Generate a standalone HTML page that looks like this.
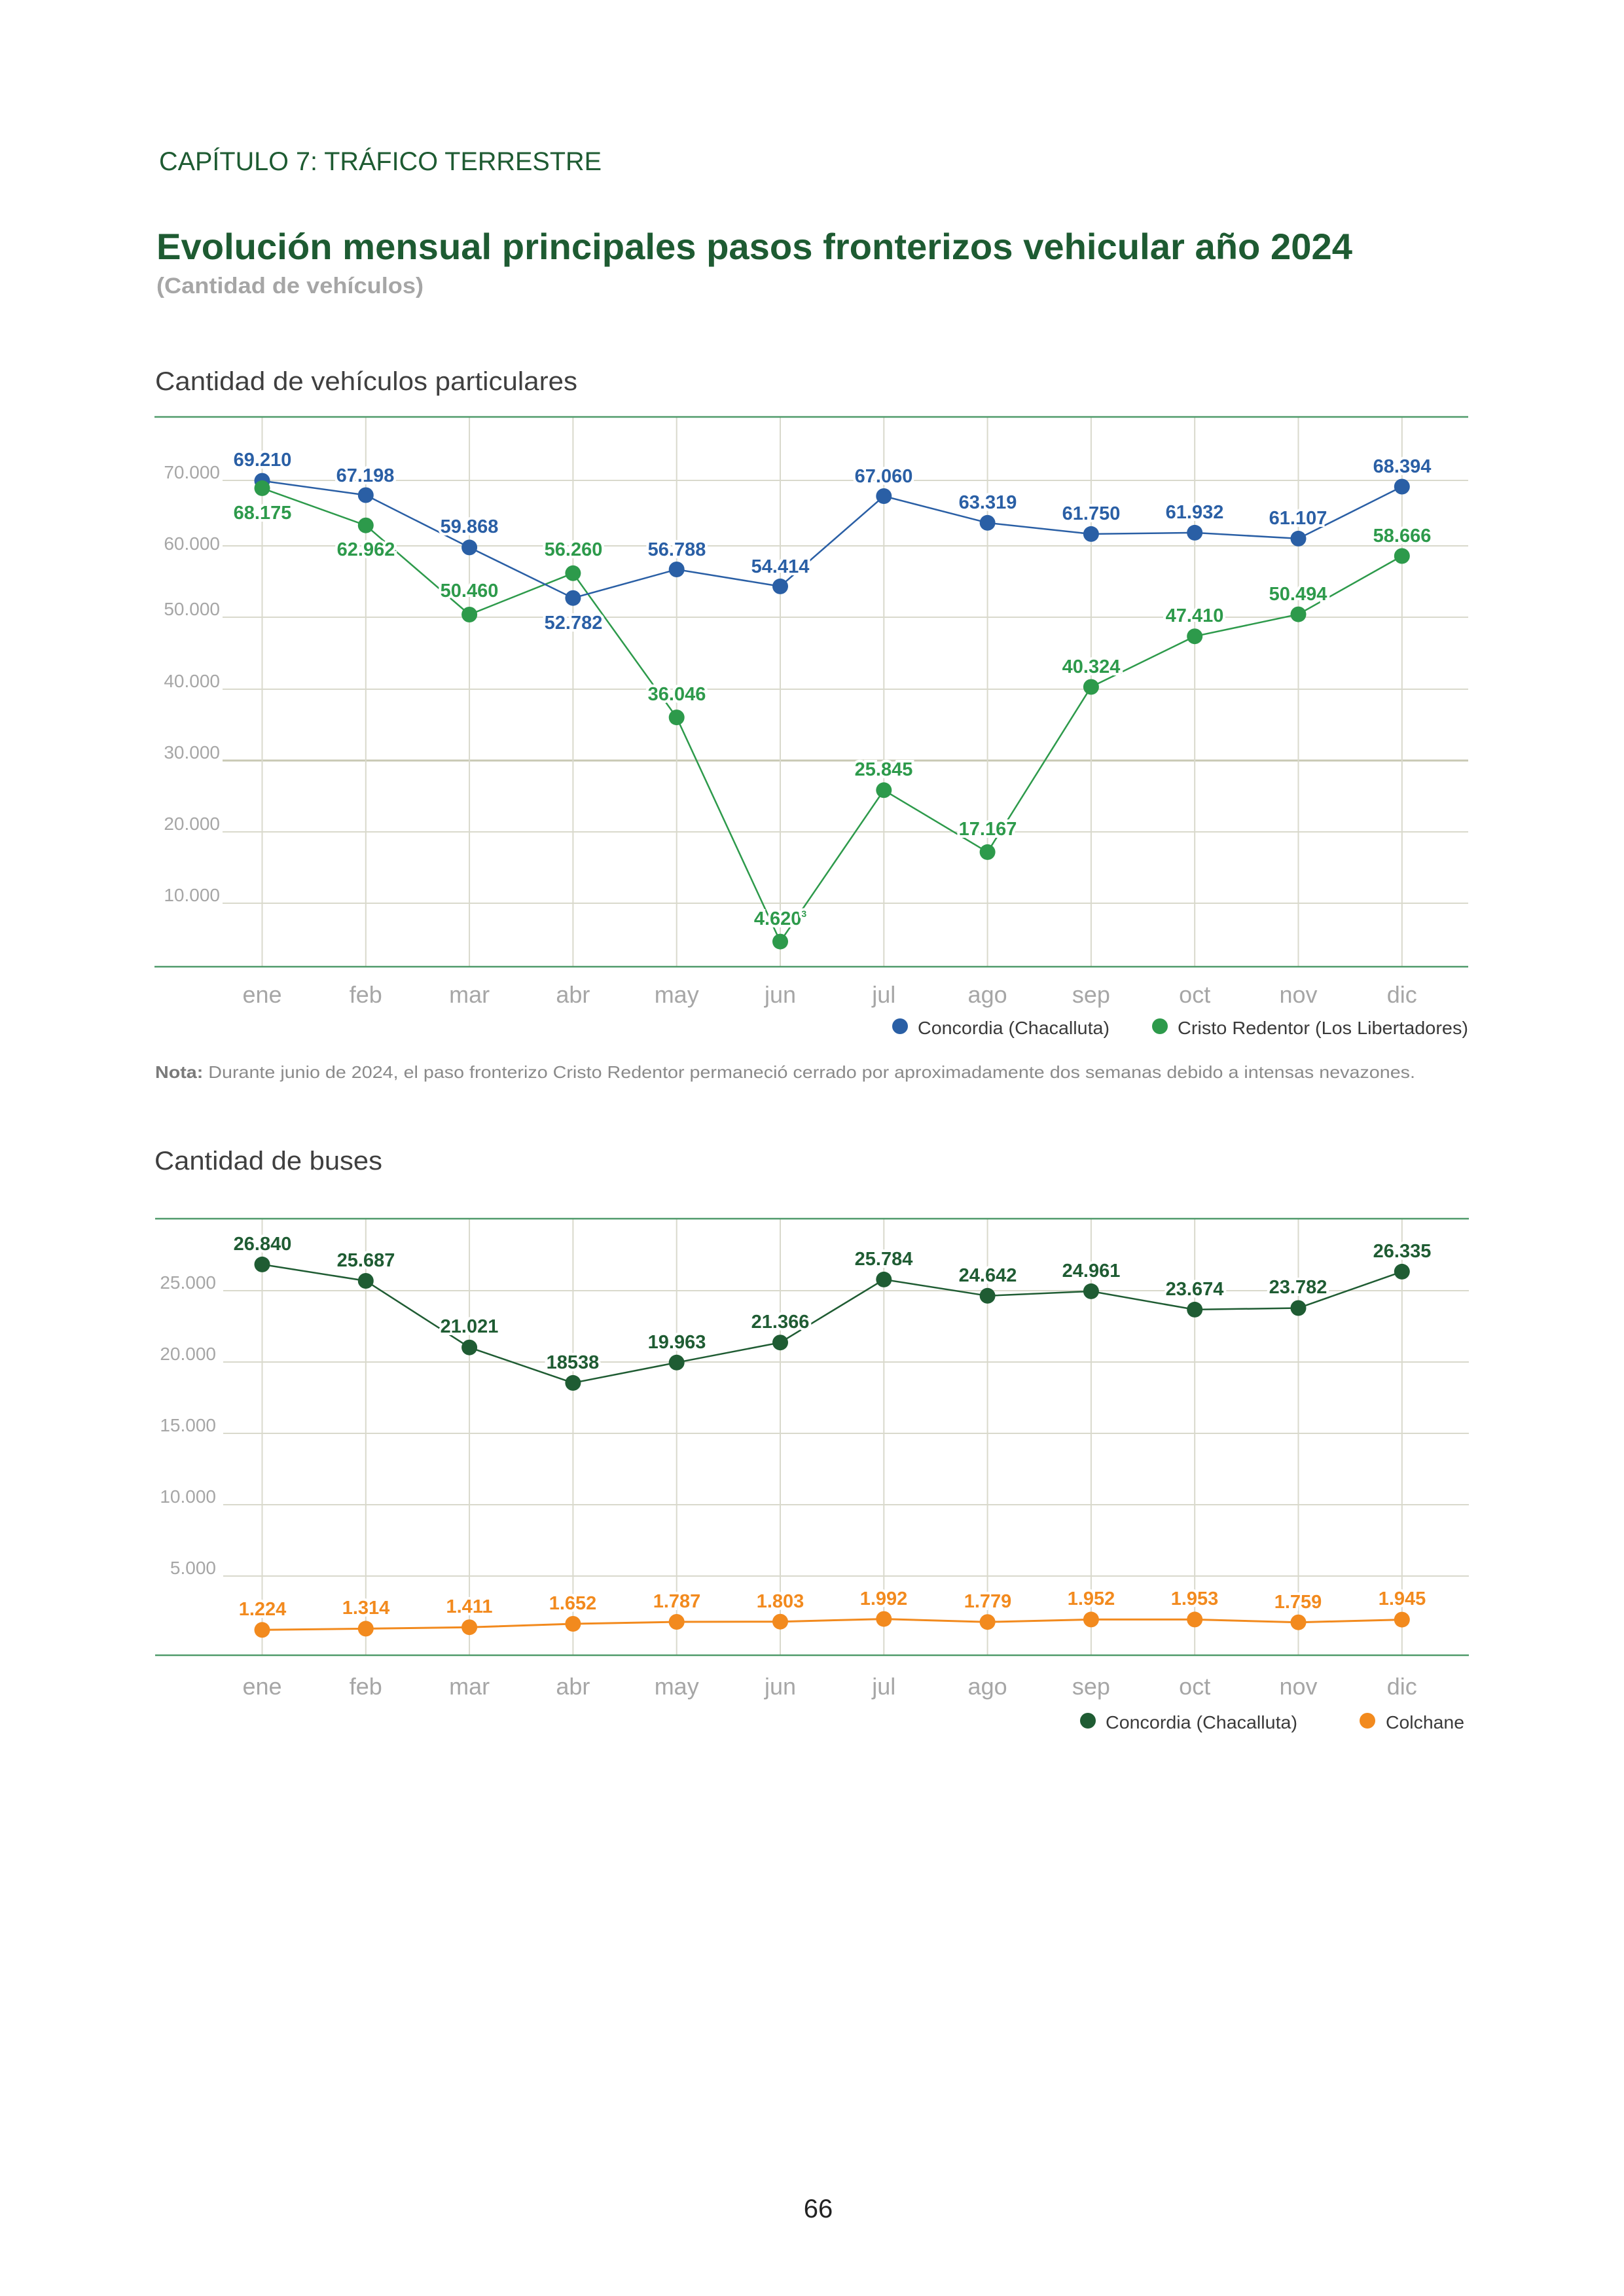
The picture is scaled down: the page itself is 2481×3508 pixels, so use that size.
<!DOCTYPE html>
<html><head><meta charset="utf-8"><style>
html,body{margin:0;padding:0;background:#fff}
svg{display:block}
text{font-family:"Liberation Sans",sans-serif}
.tk{font-size:28px;fill:#a6a6a6;text-anchor:end}
.mo{font-size:36px;fill:#a6a6a6;text-anchor:middle}
.lg{font-size:28px;fill:#3a3a3a}
.vb{font-size:29px;font-weight:bold;fill:#2a5fa5;text-anchor:middle;stroke:#fff;stroke-width:8px;paint-order:stroke}
.vg{font-size:29px;font-weight:bold;fill:#2d9a4b;text-anchor:middle;stroke:#fff;stroke-width:8px;paint-order:stroke}
.vd{font-size:29px;font-weight:bold;fill:#1f5c33;text-anchor:middle;stroke:#fff;stroke-width:8px;paint-order:stroke}
.vo{font-size:29px;font-weight:bold;fill:#f28a1e;text-anchor:middle;stroke:#fff;stroke-width:8px;paint-order:stroke}
.gl{stroke:#d9d9cc;stroke-width:2}
</style></head><body>
<svg width="2481" height="3508" viewBox="0 0 2481 3508" xmlns="http://www.w3.org/2000/svg">
<rect width="2481" height="3508" fill="#fff"/>
<text x="243" y="260" font-size="40" fill="#1e5b32" textLength="676" lengthAdjust="spacingAndGlyphs">CAPÍTULO 7: TRÁFICO TERRESTRE</text>
<text x="239" y="396" font-size="56" font-weight="bold" fill="#1e5b32" textLength="1827" lengthAdjust="spacingAndGlyphs">Evolución mensual principales pasos fronterizos vehicular año 2024</text>
<text x="239" y="448" font-size="34" font-weight="bold" fill="#a6a6a6" textLength="408" lengthAdjust="spacingAndGlyphs">(Cantidad de vehículos)</text>
<text x="237" y="596" font-size="40" fill="#3f3f3f" textLength="645" lengthAdjust="spacingAndGlyphs">Cantidad de vehículos particulares</text>

<!-- Chart 1 -->
<g>
<line class="gl" x1="340" y1="734" x2="2243" y2="734"/>
<line class="gl" x1="340" y1="834" x2="2243" y2="834"/>
<line class="gl" x1="340" y1="943" x2="2243" y2="943"/>
<line class="gl" x1="340" y1="1053" x2="2243" y2="1053"/>
<line x1="340" y1="1162" x2="2243" y2="1162" stroke="#c9c9b4" stroke-width="3"/>
<line class="gl" x1="340" y1="1271" x2="2243" y2="1271"/>
<line class="gl" x1="340" y1="1380" x2="2243" y2="1380"/>
<g class="gl">
<line x1="400.5" y1="637" x2="400.5" y2="1477"/><line x1="558.8" y1="637" x2="558.8" y2="1477"/><line x1="717.1" y1="637" x2="717.1" y2="1477"/><line x1="875.4" y1="637" x2="875.4" y2="1477"/><line x1="1033.7" y1="637" x2="1033.7" y2="1477"/><line x1="1192" y1="637" x2="1192" y2="1477"/><line x1="1350.3" y1="637" x2="1350.3" y2="1477"/><line x1="1508.6" y1="637" x2="1508.6" y2="1477"/><line x1="1666.9" y1="637" x2="1666.9" y2="1477"/><line x1="1825.2" y1="637" x2="1825.2" y2="1477"/><line x1="1983.5" y1="637" x2="1983.5" y2="1477"/><line x1="2141.8" y1="637" x2="2141.8" y2="1477"/>
</g>
<line x1="236" y1="637" x2="2243" y2="637" stroke="#4f9a6a" stroke-width="2.5"/>
<line x1="236" y1="1477" x2="2243" y2="1477" stroke="#4f9a6a" stroke-width="2.5"/>
<text class="tk" x="336" y="731">70.000</text>
<text class="tk" x="336" y="840">60.000</text>
<text class="tk" x="336" y="940">50.000</text>
<text class="tk" x="336" y="1050">40.000</text>
<text class="tk" x="336" y="1159">30.000</text>
<text class="tk" x="336" y="1268">20.000</text>
<text class="tk" x="336" y="1377">10.000</text>

<polyline fill="none" stroke="#2d9a4b" stroke-width="2.5" points="400.5,745.9 558.8,802.7 717.1,939 875.4,875.8 1033.7,1096.1 1192,1438.6 1350.3,1207.3 1508.6,1301.9 1666.9,1049.5 1825.2,972.2 1983.5,938.6 2141.8,849.5"/>
<polyline fill="none" stroke="#2a5fa5" stroke-width="2.5" points="400.5,734.6 558.8,756.5 717.1,836.4 875.4,913.7 1033.7,870 1192,895.9 1350.3,758 1508.6,798.8 1666.9,815.9 1825.2,813.9 1983.5,822.9 2141.8,743.5"/>
<g fill="#2a5fa5">
<circle cx="400.5" cy="734.6" r="12"/><circle cx="558.8" cy="756.5" r="12"/><circle cx="717.1" cy="836.4" r="12"/><circle cx="875.4" cy="913.7" r="12"/><circle cx="1033.7" cy="870" r="12"/><circle cx="1192" cy="895.9" r="12"/><circle cx="1350.3" cy="758" r="12"/><circle cx="1508.6" cy="798.8" r="12"/><circle cx="1666.9" cy="815.9" r="12"/><circle cx="1825.2" cy="813.9" r="12"/><circle cx="1983.5" cy="822.9" r="12"/><circle cx="2141.8" cy="743.5" r="12"/>
</g>
<g fill="#2d9a4b">
<circle cx="400.5" cy="745.9" r="12"/><circle cx="558.8" cy="802.7" r="12"/><circle cx="717.1" cy="939" r="12"/><circle cx="875.4" cy="875.8" r="12"/><circle cx="1033.7" cy="1096.1" r="12"/><circle cx="1192" cy="1438.6" r="12"/><circle cx="1350.3" cy="1207.3" r="12"/><circle cx="1508.6" cy="1301.9" r="12"/><circle cx="1666.9" cy="1049.5" r="12"/><circle cx="1825.2" cy="972.2" r="12"/><circle cx="1983.5" cy="938.6" r="12"/><circle cx="2141.8" cy="849.5" r="12"/>
</g>
<text class="vb" x="401" y="712">69.210</text>
<text class="vb" x="558" y="736">67.198</text>
<text class="vb" x="717" y="814">59.868</text>
<text class="vb" x="876" y="961">52.782</text>
<text class="vb" x="1034" y="849">56.788</text>
<text class="vb" x="1192" y="875">54.414</text>
<text class="vb" x="1350" y="737">67.060</text>
<text class="vb" x="1509" y="777">63.319</text>
<text class="vb" x="1667" y="794">61.750</text>
<text class="vb" x="1825" y="792">61.932</text>
<text class="vb" x="1983" y="801">61.107</text>
<text class="vb" x="2142" y="722">68.394</text>
<text class="vg" x="401" y="793">68.175</text>
<text class="vg" x="559" y="849">62.962</text>
<text class="vg" x="717" y="912">50.460</text>
<text class="vg" x="876" y="849">56.260</text>
<text class="vg" x="1034" y="1070">36.046</text>
<text class="vg" x="1192" y="1413">4.620<tspan font-size="14" dy="-12">3</tspan></text>
<text class="vg" x="1350" y="1185">25.845</text>
<text class="vg" x="1509" y="1276">17.167</text>
<text class="vg" x="1667" y="1028">40.324</text>
<text class="vg" x="1825" y="950">47.410</text>
<text class="vg" x="1983" y="917">50.494</text>
<text class="vg" x="2142" y="828">58.666</text>
<g class="mo">
<text x="400.5" y="1532">ene</text><text x="558.8" y="1532">feb</text><text x="717.1" y="1532">mar</text><text x="875.4" y="1532">abr</text><text x="1033.7" y="1532">may</text><text x="1192" y="1532">jun</text><text x="1350.3" y="1532">jul</text><text x="1508.6" y="1532">ago</text><text x="1666.9" y="1532">sep</text><text x="1825.2" y="1532">oct</text><text x="1983.5" y="1532">nov</text><text x="2141.8" y="1532">dic</text>
</g>
<circle cx="1375" cy="1568" r="12" fill="#2a5fa5"/>
<text class="lg" x="1402" y="1580" textLength="293" lengthAdjust="spacingAndGlyphs">Concordia (Chacalluta)</text>
<circle cx="1772" cy="1568" r="12" fill="#2d9a4b"/>
<text class="lg" x="1799" y="1580" textLength="444" lengthAdjust="spacingAndGlyphs">Cristo Redentor (Los Libertadores)</text>
</g>
<text x="237" y="1647" font-size="26" fill="#8a8a8a" textLength="1925" lengthAdjust="spacingAndGlyphs"><tspan font-weight="bold" fill="#7a7a7a">Nota:</tspan> Durante junio de 2024, el paso fronterizo Cristo Redentor permaneció cerrado por aproximadamente dos semanas debido a intensas nevazones.</text>

<text x="236" y="1787" font-size="40" fill="#3f3f3f" textLength="348" lengthAdjust="spacingAndGlyphs">Cantidad de buses</text>

<!-- Chart 2 -->
<g>
<line class="gl" x1="341" y1="1972" x2="2244" y2="1972"/>
<line class="gl" x1="341" y1="2081" x2="2244" y2="2081"/>
<line class="gl" x1="341" y1="2190" x2="2244" y2="2190"/>
<line class="gl" x1="341" y1="2299" x2="2244" y2="2299"/>
<line class="gl" x1="341" y1="2408" x2="2244" y2="2408"/>
<g class="gl">
<line x1="400.5" y1="1862" x2="400.5" y2="2529"/><line x1="558.8" y1="1862" x2="558.8" y2="2529"/><line x1="717.1" y1="1862" x2="717.1" y2="2529"/><line x1="875.4" y1="1862" x2="875.4" y2="2529"/><line x1="1033.7" y1="1862" x2="1033.7" y2="2529"/><line x1="1192" y1="1862" x2="1192" y2="2529"/><line x1="1350.3" y1="1862" x2="1350.3" y2="2529"/><line x1="1508.6" y1="1862" x2="1508.6" y2="2529"/><line x1="1666.9" y1="1862" x2="1666.9" y2="2529"/><line x1="1825.2" y1="1862" x2="1825.2" y2="2529"/><line x1="1983.5" y1="1862" x2="1983.5" y2="2529"/><line x1="2141.8" y1="1862" x2="2141.8" y2="2529"/>
</g>
<line x1="237" y1="1862" x2="2244" y2="1862" stroke="#4f9a6a" stroke-width="2.5"/>
<line x1="237" y1="2529" x2="2244" y2="2529" stroke="#4f9a6a" stroke-width="2.5"/>
<text class="tk" x="330" y="1969">25.000</text>
<text class="tk" x="330" y="2078">20.000</text>
<text class="tk" x="330" y="2187">15.000</text>
<text class="tk" x="330" y="2296">10.000</text>
<text class="tk" x="330" y="2405">5.000</text>

<polyline fill="none" stroke="#1f5c33" stroke-width="2.5" points="400.5,1931.9 558.8,1957 717.1,2058.7 875.4,2112.9 1033.7,2081.8 1192,2051.2 1350.3,1954.9 1508.6,1979.8 1666.9,1972.9 1825.2,2000.9 1983.5,1998.5 2141.8,1942.9"/>
<polyline fill="none" stroke="#f28a1e" stroke-width="3" points="400.5,2490.3 558.8,2488.4 717.1,2486.2 875.4,2481 1033.7,2478 1192,2477.7 1350.3,2473.6 1508.6,2478.2 1666.9,2474.4 1825.2,2474.4 1983.5,2478.7 2141.8,2474.6"/>
<g fill="#1f5c33">
<circle cx="400.5" cy="1931.9" r="12"/><circle cx="558.8" cy="1957" r="12"/><circle cx="717.1" cy="2058.7" r="12"/><circle cx="875.4" cy="2112.9" r="12"/><circle cx="1033.7" cy="2081.8" r="12"/><circle cx="1192" cy="2051.2" r="12"/><circle cx="1350.3" cy="1954.9" r="12"/><circle cx="1508.6" cy="1979.8" r="12"/><circle cx="1666.9" cy="1972.9" r="12"/><circle cx="1825.2" cy="2000.9" r="12"/><circle cx="1983.5" cy="1998.5" r="12"/><circle cx="2141.8" cy="1942.9" r="12"/>
</g>
<g fill="#f28a1e">
<circle cx="400.5" cy="2490.3" r="12"/><circle cx="558.8" cy="2488.4" r="12"/><circle cx="717.1" cy="2486.2" r="12"/><circle cx="875.4" cy="2481" r="12"/><circle cx="1033.7" cy="2478" r="12"/><circle cx="1192" cy="2477.7" r="12"/><circle cx="1350.3" cy="2473.6" r="12"/><circle cx="1508.6" cy="2478.2" r="12"/><circle cx="1666.9" cy="2474.4" r="12"/><circle cx="1825.2" cy="2474.4" r="12"/><circle cx="1983.5" cy="2478.7" r="12"/><circle cx="2141.8" cy="2474.6" r="12"/>
</g>
<text class="vd" x="401" y="1910">26.840</text>
<text class="vd" x="559" y="1935">25.687</text>
<text class="vd" x="717" y="2036">21.021</text>
<text class="vd" x="875" y="2091">18538</text>
<text class="vd" x="1034" y="2060">19.963</text>
<text class="vd" x="1192" y="2029">21.366</text>
<text class="vd" x="1350" y="1933">25.784</text>
<text class="vd" x="1509" y="1958">24.642</text>
<text class="vd" x="1667" y="1951">24.961</text>
<text class="vd" x="1825" y="1979">23.674</text>
<text class="vd" x="1983" y="1976">23.782</text>
<text class="vd" x="2142" y="1921">26.335</text>
<text class="vo" x="401" y="2468">1.224</text>
<text class="vo" x="559" y="2466">1.314</text>
<text class="vo" x="717" y="2464">1.411</text>
<text class="vo" x="875" y="2459">1.652</text>
<text class="vo" x="1034" y="2456">1.787</text>
<text class="vo" x="1192" y="2456">1.803</text>
<text class="vo" x="1350" y="2452">1.992</text>
<text class="vo" x="1509" y="2456">1.779</text>
<text class="vo" x="1667" y="2452">1.952</text>
<text class="vo" x="1825" y="2452">1.953</text>
<text class="vo" x="1983" y="2457">1.759</text>
<text class="vo" x="2142" y="2452">1.945</text>
<g class="mo">
<text x="400.5" y="2589">ene</text><text x="558.8" y="2589">feb</text><text x="717.1" y="2589">mar</text><text x="875.4" y="2589">abr</text><text x="1033.7" y="2589">may</text><text x="1192" y="2589">jun</text><text x="1350.3" y="2589">jul</text><text x="1508.6" y="2589">ago</text><text x="1666.9" y="2589">sep</text><text x="1825.2" y="2589">oct</text><text x="1983.5" y="2589">nov</text><text x="2141.8" y="2589">dic</text>
</g>
<circle cx="1662" cy="2629" r="12" fill="#1f5c33"/>
<text class="lg" x="1689" y="2641" textLength="293" lengthAdjust="spacingAndGlyphs">Concordia (Chacalluta)</text>
<circle cx="2089" cy="2629" r="12" fill="#f28a1e"/>
<text class="lg" x="2117" y="2641" textLength="120" lengthAdjust="spacingAndGlyphs">Colchane</text>
</g>

<text x="1250" y="3388" font-size="40" fill="#222" text-anchor="middle">66</text>
</svg>
</body></html>
